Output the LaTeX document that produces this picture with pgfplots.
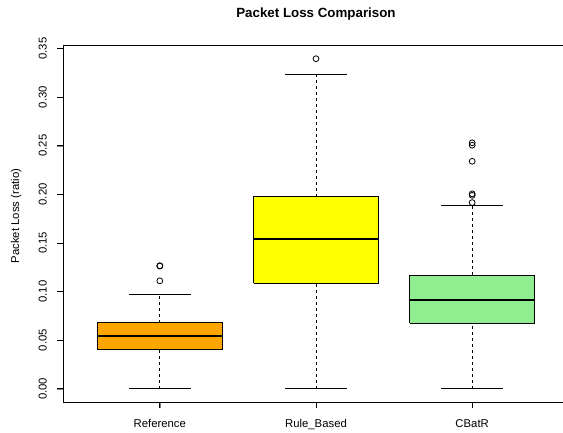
\documentclass[border=0pt]{standalone}
\usepackage{fontspec}
\setmainfont{Liberation Sans}
\usepackage{pgfplots}
\pgfplotsset{compat=1.18}
\definecolor{rorange}{HTML}{FFA500}
\definecolor{ryellow}{HTML}{FFFF00}
\definecolor{rgreen}{HTML}{90EE90}
\pgfplotsset{
  whisk/.style={black, line width=0.6pt, dash pattern=on 2.25pt off 2.25pt, forget plot},
  staple/.style={black, line width=0.6pt, solid, forget plot},
  boxst/.style={draw=black, line width=0.6pt, solid, forget plot},
  med/.style={black, line width=1.6pt, solid, forget plot},
  outl/.style={only marks, mark=o, mark size=2.2pt, black, mark options={solid, line width=0.6pt}, forget plot},
}
\begin{document}
\begin{tikzpicture}
\begin{axis}[
  at={(47.25pt,22.5pt)}, anchor=south west,
  scale only axis, width=379.5pt, height=267.75pt,
  xmin=0.38, xmax=3.62, ymin=-0.0136, ymax=0.3536,
  xtick={1,2,3}, xticklabels={Reference,Rule\_Based,CBatR},
  ytick={0,0.05,0.1,0.15,0.2,0.25,0.3,0.35},
  yticklabels={0.00,0.05,0.10,0.15,0.20,0.25,0.30,0.35},
  yticklabel style={rotate=90, anchor=base},
  tick label style={font=\fontsize{8.5}{10}\selectfont},
  xticklabel style={anchor=base},
  xticklabel shift=14.25pt,
  yticklabel shift=7.75pt,
  tick align=outside, major tick length=4.5pt,
  xtick pos=left, ytick pos=left,
  axis line style={line width=0.6pt},
  clip=false,
]
% Reference
\addplot[whisk] coordinates {(1,0) (1,0.040)};
\addplot[whisk] coordinates {(1,0.068) (1,0.0972)};
\addplot[staple] coordinates {(0.8,0) (1.2,0)};
\addplot[staple] coordinates {(0.8,0.0972) (1.2,0.0972)};
\addplot[boxst, fill=rorange] coordinates {(0.6,0.040) (1.4,0.040) (1.4,0.068) (0.6,0.068) (0.6,0.040)};
\addplot[med] coordinates {(0.6,0.0541) (1.4,0.0541)};
\addplot[outl] coordinates {(1,0.1266) (1,0.1262) (1,0.111)};
% Rule_Based
\addplot[whisk] coordinates {(2,0) (2,0.1085)};
\addplot[whisk] coordinates {(2,0.1974) (2,0.3234)};
\addplot[staple] coordinates {(1.8,0) (2.2,0)};
\addplot[staple] coordinates {(1.8,0.3234) (2.2,0.3234)};
\addplot[boxst, fill=ryellow] coordinates {(1.6,0.1085) (2.4,0.1085) (2.4,0.1974) (1.6,0.1974) (1.6,0.1085)};
\addplot[med] coordinates {(1.6,0.1543) (2.4,0.1543)};
\addplot[outl] coordinates {(2,0.3395)};
% CBatR
\addplot[whisk] coordinates {(3,0) (3,0.0672)};
\addplot[whisk] coordinates {(3,0.1168) (3,0.1886)};
\addplot[staple] coordinates {(2.8,0) (3.2,0)};
\addplot[staple] coordinates {(2.8,0.1886) (3.2,0.1886)};
\addplot[boxst, fill=rgreen] coordinates {(2.6,0.0672) (3.4,0.0672) (3.4,0.1168) (2.6,0.1168) (2.6,0.0672)};
\addplot[med] coordinates {(2.6,0.0916) (3.4,0.0916)};
\addplot[outl] coordinates {(3,0.2530) (3,0.2505) (3,0.2340) (3,0.2005) (3,0.1990) (3,0.1915)};
% axis ticks (4.5pt = 0.0384 x-units = 0.00617 y-units)
\draw[line width=0.6pt] (axis cs:0.38,0) -- (axis cs:0.3416,0);
\draw[line width=0.6pt] (axis cs:0.38,0.05) -- (axis cs:0.3416,0.05);
\draw[line width=0.6pt] (axis cs:0.38,0.10) -- (axis cs:0.3416,0.10);
\draw[line width=0.6pt] (axis cs:0.38,0.15) -- (axis cs:0.3416,0.15);
\draw[line width=0.6pt] (axis cs:0.38,0.20) -- (axis cs:0.3416,0.20);
\draw[line width=0.6pt] (axis cs:0.38,0.25) -- (axis cs:0.3416,0.25);
\draw[line width=0.6pt] (axis cs:0.38,0.30) -- (axis cs:0.3416,0.30);
\draw[line width=0.6pt] (axis cs:0.38,0.35) -- (axis cs:0.3416,0.35);
\draw[line width=0.6pt] (axis cs:1,-0.0136) -- (axis cs:1,-0.01977);
\draw[line width=0.6pt] (axis cs:2,-0.0136) -- (axis cs:2,-0.01977);
\draw[line width=0.6pt] (axis cs:3,-0.0136) -- (axis cs:3,-0.01977);
\end{axis}
\node[font=\bfseries\fontsize{10}{12}\selectfont, anchor=base] at (237pt,310.5pt) {Packet Loss Comparison};
\node[font=\fontsize{8.5}{10}\selectfont, rotate=90, anchor=base] at (14.25pt,162pt) {Packet Loss (ratio)};
\pgfresetboundingbox
\useasboundingbox (0,0) rectangle (422.25pt,324pt);
\end{tikzpicture}
\end{document}
